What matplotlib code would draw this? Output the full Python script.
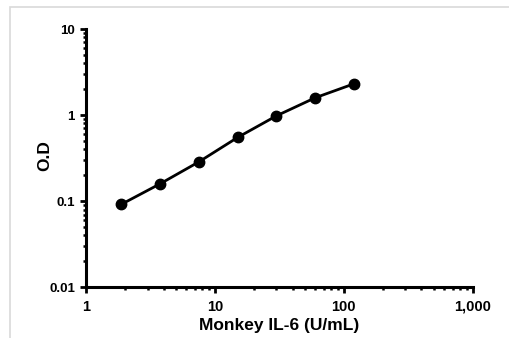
import matplotlib
matplotlib.use("Agg")
import matplotlib.pyplot as plt
from matplotlib.patches import Rectangle
from matplotlib.ticker import FixedLocator, LogLocator, NullFormatter

plt.rcParams['font.family'] = ['Liberation Sans', 'DejaVu Sans']

# standard curve
conc = [1.88, 3.75, 7.5, 15, 30, 60, 120]
od = [0.092, 0.159, 0.286, 0.55, 0.98, 1.59, 2.31]

xticks = [1, 10, 100, 1000]
xlabels = ['1', '10', '100', '1,000']
yticks = [0.01, 0.1, 1, 10]
ylabels = ['0.01', '0.1', '1', '10']

fig = plt.figure(figsize=(5.1, 3.38), dpi=100)
# light grey frame round the picture
fig.patches.append(Rectangle((10 / 510, -0.05), 1.2, 1 - 7 / 338 + 0.05,
                             transform=fig.transFigure, fill=False,
                             edgecolor='#d9d9d9', linewidth=1.2))

ax = fig.add_axes([86 / 510, 1 - 287.3 / 338, (472.7 - 86) / 510, (287.3 - 29) / 338])
ax.plot(conc, od, color='black', linewidth=2, marker='o', markersize=7.5, clip_on=False)

ax.set_xscale('log')
ax.set_yscale('log')
ax.set_xlim(1, 1000)
ax.set_ylim(0.01, 10)

ax.xaxis.set_major_locator(FixedLocator(xticks))
ax.set_xticklabels(xlabels)
ax.yaxis.set_major_locator(FixedLocator(yticks))
ax.set_yticklabels(ylabels)
ax.xaxis.set_minor_locator(LogLocator(base=10, subs=range(2, 10)))
ax.yaxis.set_minor_locator(LogLocator(base=10, subs=range(2, 10)))
ax.xaxis.set_minor_formatter(NullFormatter())
ax.yaxis.set_minor_formatter(NullFormatter())

for s in ['top', 'right']:
    ax.spines[s].set_visible(False)
for s in ['left', 'bottom']:
    ax.spines[s].set_linewidth(2.2)

ax.tick_params(which='major', direction='out', length=4, width=2, pad=3)
ax.tick_params(which='minor', direction='out', length=2.5, width=1.8)
ax.tick_params(axis='x', which='major', labelsize=10.5, pad=5)
ax.tick_params(axis='y', which='major', labelsize=9.5, pad=4)
for lab in ax.get_xticklabels() + ax.get_yticklabels():
    lab.set_fontweight('bold')

ax.set_xlabel('Monkey IL-6 (U/mL)', fontsize=12.5, fontweight='bold', labelpad=3)
ax.set_ylabel('O.D', fontsize=12.5, fontweight='bold')
ax.yaxis.set_label_coords(-0.088, 0.51)

fig.savefig('out.png', dpi=100)
